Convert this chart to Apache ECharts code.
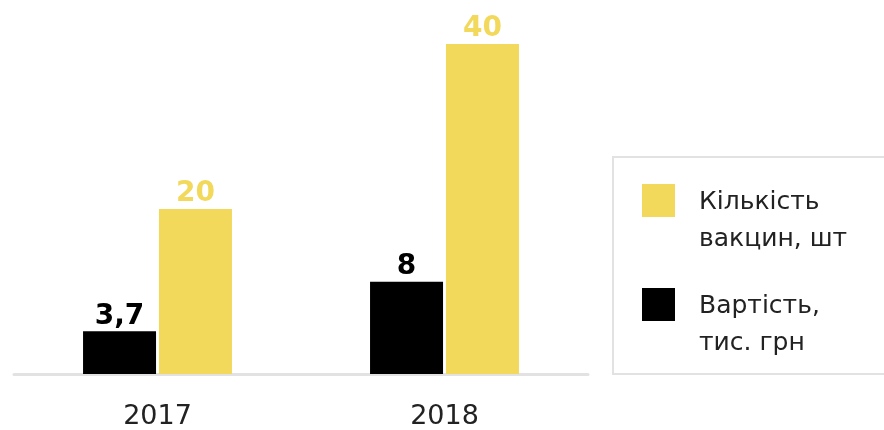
<!DOCTYPE html>
<html>
<head>
<meta charset="utf-8">
<script src="https://cdn.jsdelivr.net/npm/echarts@6/dist/echarts.min.js"></script>
<style>
  html, body { margin: 0; padding: 0; background: #fff; }
  #chart { width: 884px; height: 430px; }
</style>
</head>
<body>
<div id="chart"></div>
<script>
// Vaccine purchases by year
const years = ['2017', '2018'];
const costValues = [3.7, 8];        // Вартість, тис. грн
const countValues = [20, 40];       // Кількість вакцин, шт
const costName = 'Вартість,\nтис. грн';
const countName = 'Кількість\nвакцин, шт';

const YELLOW = '#F2D85B';
const BLACK = '#000000';
const FONT = 'DejaVu Sans';

// Legend marker: a 33px square drawn at the top-left of a 52x74 box
const legendIcon = 'path://M0,0L33,0L33,33L0,33Z M52,74L52,74';

const chart = echarts.init(document.getElementById('chart'), null, { renderer: 'canvas' });

const valueLabel = (color) => ({
  show: true,
  position: 'top',
  distance: 1,
  color: color,
  fontFamily: FONT,
  fontWeight: 'bold',
  fontSize: 28,
  formatter: (p) => String(p.value).replace('.', ',')
});

chart.setOption({
  animation: false,
  backgroundColor: '#ffffff',
  grid: { left: 14, right: 296, top: 44, bottom: 54, containLabel: false },
  xAxis: {
    type: 'category',
    data: years,
    axisLine: { show: true, lineStyle: { color: '#e2e2e2', width: 3 } },
    axisTick: { show: false },
    splitLine: { show: false },
    axisLabel: { color: '#222', fontFamily: FONT, fontSize: 27, margin: 29 }
  },
  yAxis: [
    { type: 'value', min: 0, max: 28.6, show: false, splitLine: { show: false } },
    { type: 'value', min: 0, max: 40, show: false, splitLine: { show: false } }
  ],
  legend: {
    orient: 'vertical',
    left: 613,
    top: 157,
    padding: [27, 80, 12, 29],
    itemGap: 30,
    itemWidth: 52,
    itemHeight: 74,
    borderColor: '#e2e2e2',
    borderWidth: 2,
    borderRadius: 0,
    backgroundColor: '#fff',
    selectedMode: false,
    icon: legendIcon,
    textStyle: { color: '#222', fontFamily: FONT, fontSize: 25, lineHeight: 37, padding: [0, 0, 0, 0] },
    data: [
      { name: countName, itemStyle: { color: YELLOW, borderWidth: 0 } },
      { name: costName, itemStyle: { color: BLACK, borderWidth: 0 } }
    ]
  },
  series: [
    {
      name: costName,
      type: 'bar',
      yAxisIndex: 0,
      data: costValues,
      barWidth: 73,
      barGap: '4%',
      itemStyle: { color: BLACK },
      label: valueLabel(BLACK)
    },
    {
      name: countName,
      type: 'bar',
      yAxisIndex: 1,
      data: countValues,
      barWidth: 73,
      barGap: '4%',
      itemStyle: { color: YELLOW },
      label: valueLabel(YELLOW)
    }
  ]
});
</script>
</body>
</html>
